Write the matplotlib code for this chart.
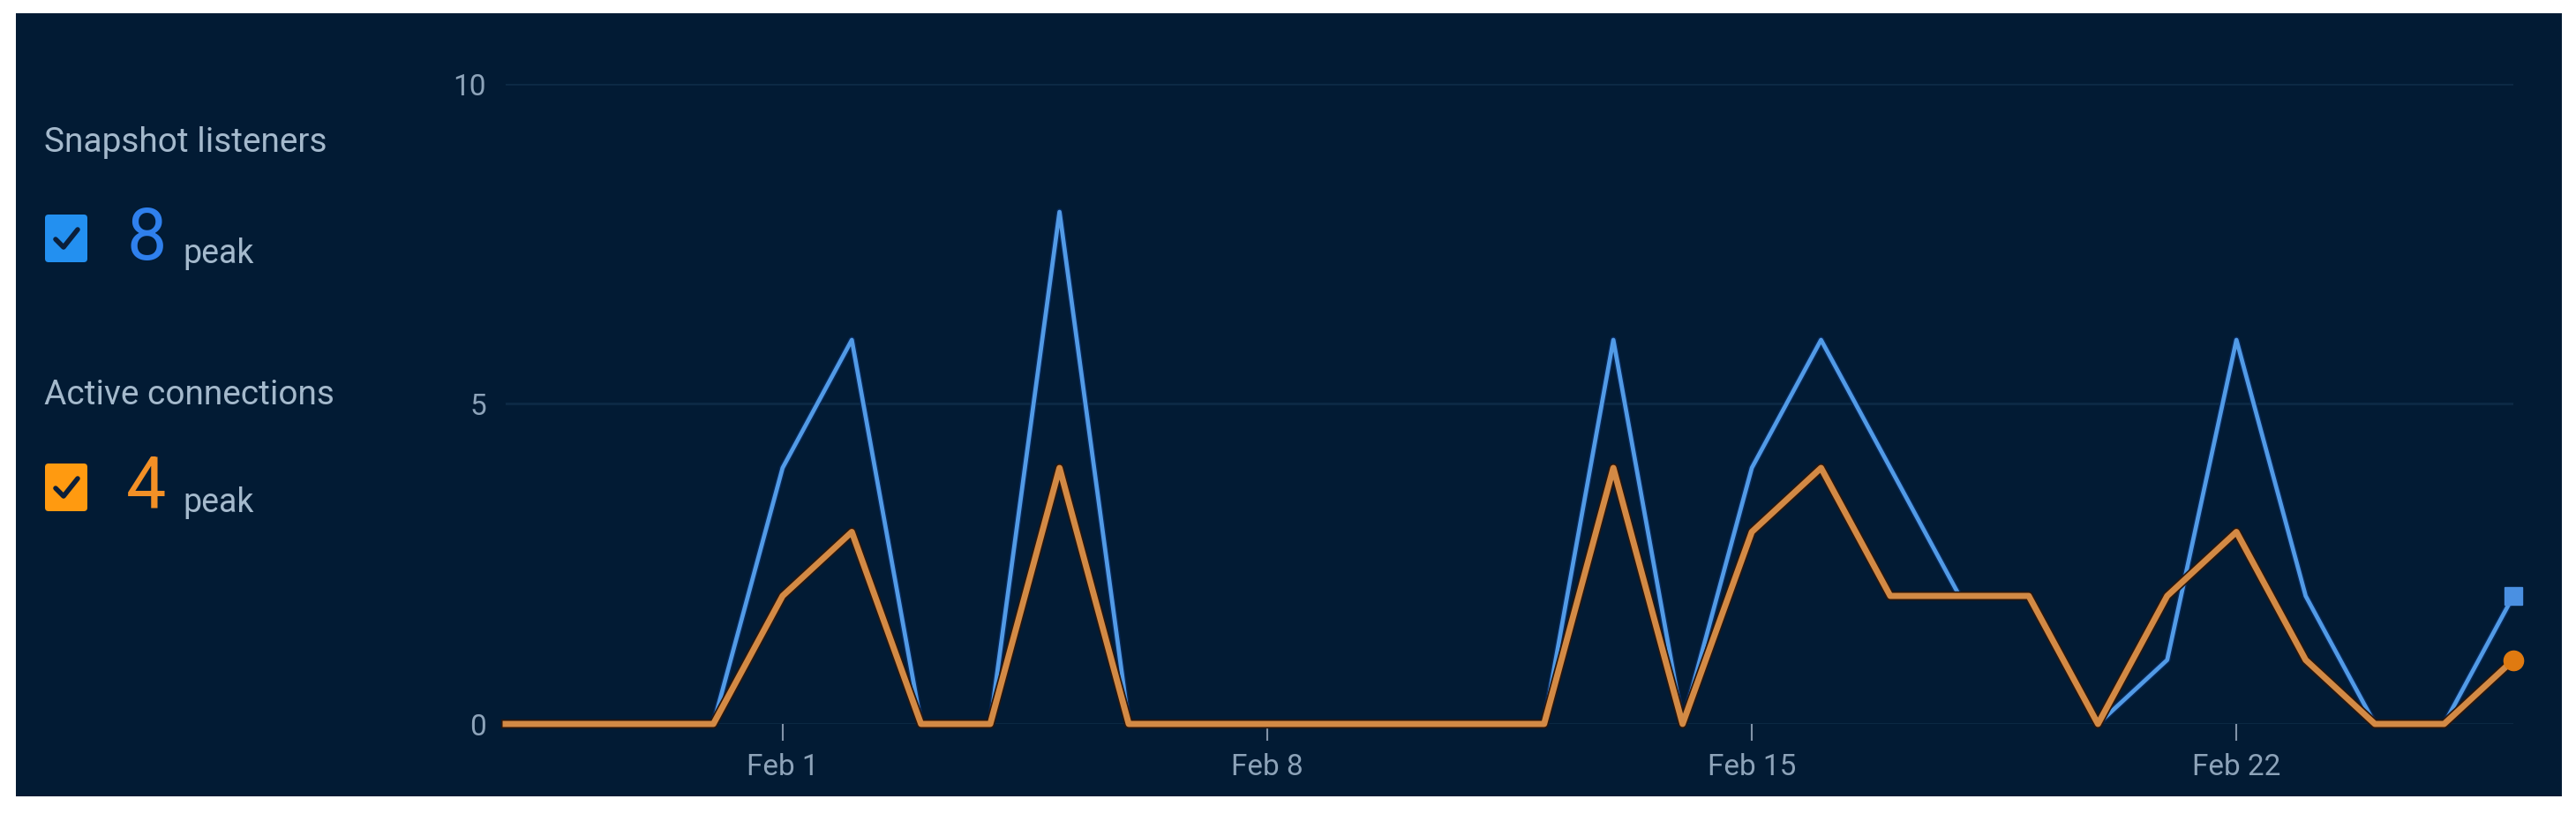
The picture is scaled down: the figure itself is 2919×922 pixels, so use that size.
#!/usr/bin/env python3
"""Snapshot listeners vs active connections, daily peaks."""

import matplotlib

matplotlib.use("Agg")

import matplotlib.pyplot as plt
import matplotlib.patheffects as pe
from matplotlib.patches import FancyBboxPatch, Rectangle
from matplotlib.lines import Line2D
import pandas as pd

# Data
dates = pd.date_range("2025-01-28", "2025-02-26", freq="D")
snapshot_listeners = [0, 0, 0, 0, 4, 6, 0, 0, 8, 0, 0, 0, 0, 0, 0, 0,
                      6, 0, 4, 6, 4, 2, 2, 0, 1, 6, 2, 0, 0, 2]
active_connections = [0, 0, 0, 0, 2, 3, 0, 0, 4, 0, 0, 0, 0, 0, 0, 0,
                      4, 0, 3, 4, 2, 2, 2, 0, 2, 3, 1, 0, 0, 1]
tick_dates = pd.to_datetime(["2025-02-01", "2025-02-08", "2025-02-15", "2025-02-22"])
y_ticks = [0, 5, 10]

# Colours
PANEL = "#021b34"
GRID = "#0d2a45"
TICK_TXT = "#8da3b9"
LABEL_TXT = "#a4b9cc"
BLUE_LINE = "#529be6"
ORANGE_LINE = "#d38a45"
BLUE_BOX = "#2390f0"
ORANGE_BOX = "#ff9a10"

W, H = 2919, 922
FONT = ["Roboto", "DejaVu Sans"]


def main():
    plt.rcParams["font.family"] = FONT
    fig = plt.figure(figsize=(W / 100, H / 100), dpi=100, facecolor="white")

    # Overlay in pixel coordinates for the panel and the side legend
    ov = fig.add_axes([0, 0, 1, 1])
    ov.set_xlim(0, W)
    ov.set_ylim(H, 0)
    ov.axis("off")
    ov.add_patch(Rectangle((18, 15), 2885, 887, facecolor=PANEL, edgecolor="none", zorder=0))

    series = [
        ("Snapshot listeners", snapshot_listeners, BLUE_BOX, "#2f80ed", 162, 270),
        ("Active connections", active_connections, ORANGE_BOX, "#f39026", 447, 552),
    ]
    for title, values, box_col, num_col, ty, cy in series:
        ov.text(50, ty, title, fontsize=28, color=LABEL_TXT, va="center", ha="left")
        ov.add_patch(FancyBboxPatch((51, cy - 27), 48, 54,
                                    boxstyle="round,pad=0,rounding_size=4",
                                    facecolor=box_col, edgecolor="none", zorder=2))
        ov.add_line(Line2D([63, 72, 88], [cy + 1, cy + 10, cy - 10], color="#0b1f3a",
                           linewidth=4, solid_capstyle="round", solid_joinstyle="round",
                           zorder=3))
        ov.text(143, cy + 2, f"{max(values)}", fontsize=58, color=num_col,
                va="center", ha="left")
        ov.text(207, cy + 28, "peak", fontsize=27, color=LABEL_TXT,
                va="baseline", ha="left")

    # Main chart
    x0, x1 = 573 / W, 2848 / W
    y0, y1 = (H - 820) / H, (H - 95) / H
    ax = fig.add_axes([x0, y0, x1 - x0, y1 - y0])
    ax.set_facecolor("none")
    ax.set_xlim(dates[0], dates[-1])
    ax.set_ylim(0, 10)

    for s in ax.spines.values():
        s.set_visible(False)
    ax.set_yticks(y_ticks)
    ax.set_xticks(tick_dates)
    ax.set_xticklabels([f"{d:%b} {d.day}" for d in tick_dates])
    ax.tick_params(axis="y", length=0, pad=16, labelsize=24, labelcolor=TICK_TXT)
    ax.tick_params(axis="x", length=14, width=1.5, color="#8193a8", pad=10,
                   labelsize=24, labelcolor=TICK_TXT)
    ax.grid(axis="y", color=GRID, linewidth=2)
    ax.set_axisbelow(True)

    ax.plot(dates, snapshot_listeners, color=BLUE_LINE, linewidth=3.4, clip_on=False,
            zorder=3, path_effects=[pe.Stroke(linewidth=5.5, foreground="#06285a"), pe.Normal()])
    ax.plot(dates, active_connections, color=ORANGE_LINE, linewidth=5, clip_on=False,
            zorder=4, path_effects=[pe.Stroke(linewidth=7.5, foreground="#2a160c"), pe.Normal()])

    ax.plot(dates[-1:], snapshot_listeners[-1:], marker="s", markersize=14, color="#4a90e2",
            linestyle="none", clip_on=False, zorder=5)
    ax.plot(dates[-1:], active_connections[-1:], marker="o", markersize=16, color="#e07a10",
            linestyle="none", clip_on=False, zorder=5)

    fig.savefig("out.png", dpi=100, facecolor="white")


if __name__ == "__main__":
    main()
